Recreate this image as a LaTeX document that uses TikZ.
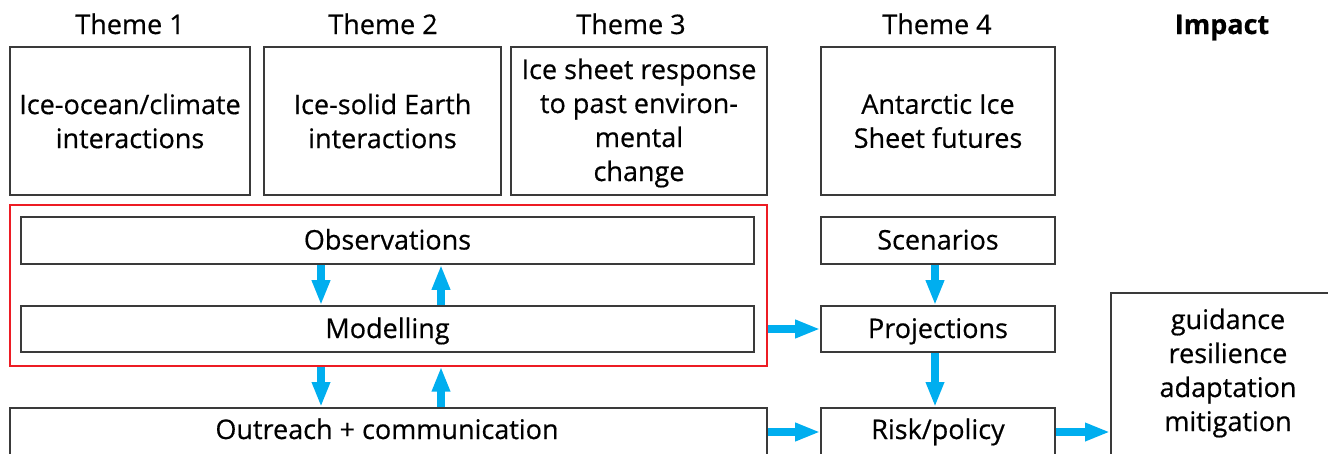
\documentclass[tikz,border=0pt]{standalone}
\usepackage{fontspec}
\setmainfont{Open Sans}[FakeBold=0.5]
\usetikzlibrary{arrows.meta}
\definecolor{arrowblue}{HTML}{00AEEF}
\definecolor{boxgray}{HTML}{3A3A3A}
\definecolor{framered}{HTML}{ED1C24}
\begin{document}
\begin{tikzpicture}[x=1pt,y=-1pt,
  txt/.style={font=\fontsize{27}{34}\selectfont, text=black, align=center, inner sep=0pt},
  one/.style={text height=19pt, text depth=1pt},
  box/.style={draw=boxgray, line width=1.6pt, inner sep=0pt, txt},
  redframe/.style={draw=framered, line width=1.3pt, inner sep=0pt},
  barrow/.style={draw=arrowblue, line width=8pt, -{Triangle[width=17pt,length=25pt]}}
]
\useasboundingbox (0,0) rectangle (1328,453);
% headers
\node[txt, one] (h1) at (130,25) {Theme 1};
\node[txt, one] (h2) at (383,25) {Theme 2};
\node[txt, one] (h3) at (631,25) {Theme 3};
\node[txt, one] (h4) at (937,25) {Theme 4};
\node[txt, one, font=\fontsize{27}{34}\selectfont\bfseries] (h5) at (1222,25) {Impact};
% theme boxes
\node[box, minimum width=240, minimum height=148] (t1) at (130,121) {Ice-ocean/climate\\interactions};
\node[box, minimum width=237, minimum height=148] (t2) at (382.5,121) {Ice-solid Earth\\interactions};
\node[box, minimum width=256, minimum height=148] (t3) at (639,121) {};
\node[txt] (t3txt) at (639,123) {Ice sheet response\\to past environ-\\mental\\change};
\node[box, minimum width=234, minimum height=148] (t4) at (938,121) {Antarctic Ice\\Sheet futures};
% red frame
\node[redframe, minimum width=757, minimum height=161] (red) at (388.5,285.5) {};
\node[box, one, minimum width=733, minimum height=47] (obs) at (387.5,240.5) {Observations};
\node[box, one, minimum width=733, minimum height=46] (mod) at (387.5,329) {Modelling};
% theme 4 column
\node[box, one, minimum width=234, minimum height=47] (scen) at (938,240.5) {Scenarios};
\node[box, one, minimum width=234, minimum height=46] (proj) at (938,329) {Projections};
% bottom row (cut by page edge)
\node[box, minimum width=757, minimum height=63, anchor=north] (out) at (388.5,407) {};
\node[txt, one] (outtxt) at (387,430) {Outreach + communication};
\node[box, minimum width=234, minimum height=63, anchor=north] (risk) at (938,407) {};
\node[txt, one] (risktxt) at (938,430) {Risk/policy};
\node[box, minimum width=236, minimum height=180, anchor=north west] (imp) at (1110,292) {};
\node[txt] (imptxt) at (1228,373) {guidance\\resilience\\adaptation\\mitigation};
% arrow helper coordinates
\coordinate (xa) at (321,0);
\coordinate (xb) at (441,0);
\coordinate (xc) at (935,0);
\coordinate (ya) at (0,329);
\coordinate (yb) at (0,432);
% arrows
\draw[barrow] (obs.south -| xa) -- (mod.north -| xa);
\draw[barrow] (mod.north -| xb) -- (obs.south -| xb);
\draw[barrow] (red.south -| xa) -- (out.north -| xa);
\draw[barrow] (out.north -| xb) -- (red.south -| xb);
\draw[barrow] (red.east |- ya) -- (proj.west |- ya);
\draw[barrow] (out.east |- yb) -- (risk.west |- yb);
\draw[barrow] (risk.east |- yb) -- (imp.west |- yb);
\draw[barrow] (scen.south -| xc) -- (proj.north -| xc);
\draw[barrow] (proj.south -| xc) -- (risk.north -| xc);
\end{tikzpicture}
\end{document}
